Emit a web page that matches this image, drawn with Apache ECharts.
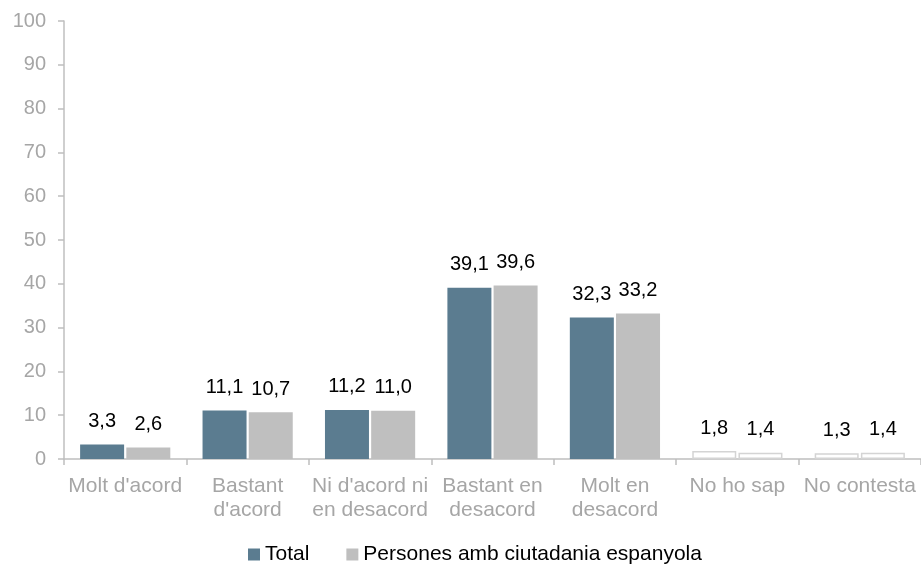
<!DOCTYPE html>
<html>
<head>
<meta charset="utf-8">
<script src="https://cdn.jsdelivr.net/npm/echarts@6/dist/echarts.min.js"></script>
<style>
  html, body { margin: 0; padding: 0; background: #fff; }
  #chart { width: 921px; height: 567px; }
</style>
</head>
<body>
<div id="chart"></div>
<script>
const categories = ["Molt d'acord", "Bastant\nd'acord", "Ni d'acord ni\nen desacord", "Bastant en\ndesacord", "Molt en\ndesacord", "No ho sap", "No contesta"];
const totalValues = [3.3, 11.1, 11.2, 39.1, 32.3, 1.8, 1.3];
const spanishValues = [2.6, 10.7, 11.0, 39.6, 33.2, 1.4, 1.4];
const seriesNames = ['Total', 'Persones amb ciutadania espanyola'];
// the last two answers are drawn as empty bars
const hollowCategories = ['No ho sap', 'No contesta'];

const fontFamily = 'Liberation Sans, Arial, sans-serif';
const fmt = v => v.toFixed(1).replace('.', ',');

function buildData(values) {
  return values.map((v, i) => {
    if (hollowCategories.includes(categories[i])) {
      return { value: v, itemStyle: { color: '#ffffff', borderColor: '#D4D4D4', borderWidth: 1.5 } };
    }
    return v;
  });
}

const labelCfg = {
  show: true,
  position: 'top',
  distance: 13,
  color: '#000',
  fontSize: 20,
  fontFamily: fontFamily,
  formatter: p => fmt(p.value)
};

const chart = echarts.init(document.getElementById('chart'));
chart.setOption({
  animation: false,
  textStyle: { fontFamily: fontFamily },
  grid: { left: 64, right: 0, top: 21, bottom: 108, containLabel: false },
  legend: {
    top: 539,
    left: 243,
    itemWidth: 12,
    itemHeight: 12,
    itemGap: 37,
    icon: 'rect',
    textStyle: { color: '#000', fontSize: 21, fontFamily: fontFamily },
    data: seriesNames
  },
  xAxis: {
    type: 'category',
    data: categories,
    axisLine: { lineStyle: { color: '#BFBFBF', width: 1.5 } },
    axisTick: { show: true, length: 6, lineStyle: { color: '#BFBFBF', width: 1.5 } },
    axisLabel: { color: '#A6A6A6', fontSize: 21, lineHeight: 24, margin: 15, interval: 0 }
  },
  yAxis: {
    type: 'value',
    min: 0,
    max: 100,
    interval: 10,
    axisLine: { show: true, lineStyle: { color: '#BFBFBF', width: 1.5 } },
    axisTick: { show: true, length: 6, lineStyle: { color: '#BFBFBF', width: 1.5 } },
    splitLine: { show: false },
    axisLabel: { color: '#A6A6A6', fontSize: 20, margin: 18 }
  },
  series: [
    {
      name: seriesNames[0],
      type: 'bar',
      data: buildData(totalValues),
      itemStyle: { color: '#5B7C90' },
      barWidth: 44,
      barGap: '5%',
      label: labelCfg
    },
    {
      name: seriesNames[1],
      type: 'bar',
      data: buildData(spanishValues),
      itemStyle: { color: '#BFBFBF' },
      barWidth: 44,
      label: labelCfg
    }
  ]
});
</script>
</body>
</html>
